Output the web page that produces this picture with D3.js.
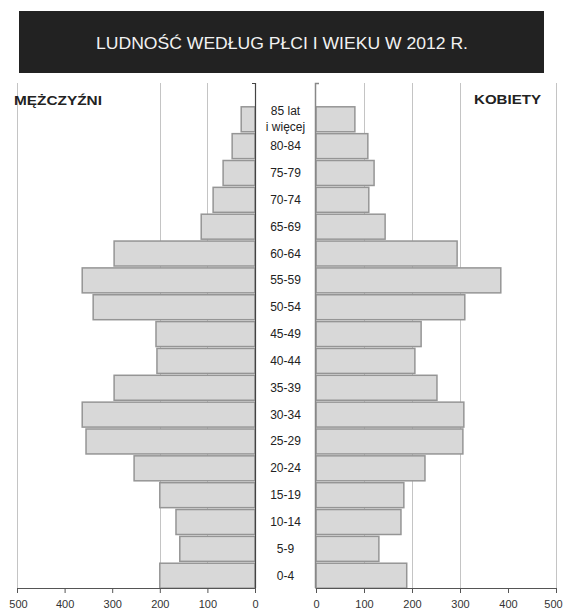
<!DOCTYPE html>
<html><head><meta charset="utf-8">
<script src="https://cdn.jsdelivr.net/npm/d3@7"></script>
<style>html,body{margin:0;padding:0;background:#fff;}svg{display:block;font-family:"Liberation Sans",Arial,sans-serif;}</style>
</head><body><svg id="c" width="564" height="609"></svg>
<script>
// Age groups from oldest (top) to youngest (bottom)
const ageGroups = ["85 lat i więcej","80-84","75-79","70-74","65-69","60-64","55-59","50-54","45-49","40-44","35-39","30-34","25-29","20-24","15-19","10-14","5-9","0-4"];
const men   = [29, 48, 67, 88, 113, 296, 363, 340, 208, 206, 296, 363, 355, 254, 200, 166, 158, 200];
const women = [81, 108, 121, 110, 144, 294, 385, 310, 219, 206, 252, 308, 306, 227, 183, 177, 131, 189];
const axisTicks = [0, 100, 200, 300, 400, 500];
const gridMen = [100, 200, 500];
const gridWomen = [100, 200, 300, 500];
const title = "LUDNOŚĆ WEDŁUG PŁCI I WIEKU W 2012 R.";
const labelMen = "MĘŻCZYŹNI";
const labelWomen = "KOBIETY";

const svg = d3.select("#c");
const yTop = 83, yBot = 588;

const xL = d3.scaleLinear().domain([0, 500]).range([255, 17]);
const xR = d3.scaleLinear().domain([0, 500]).range([316, 556]);
const y = d3.scaleBand().domain(ageGroups).range([106, 589]).paddingInner(0.07).paddingOuter(0.03);

// title bar
svg.append("rect").attr("x", 19).attr("y", 11).attr("width", 525).attr("height", 62).attr("fill", "#222");
svg.append("text").attr("x", 282).attr("y", 49).attr("text-anchor", "middle")
  .attr("fill", "#f2f2f2").attr("font-size", 16.5).attr("textLength", 372).attr("lengthAdjust", "spacingAndGlyphs")
  .text(title);

// gridlines
const grid = svg.append("g").attr("stroke", "#c4c4c4").attr("stroke-width", 1);
grid.selectAll(".gl").data(gridMen).join("line")
  .attr("x1", d => Math.round(xL(d)) + 0.5).attr("x2", d => Math.round(xL(d)) + 0.5)
  .attr("y1", yTop).attr("y2", yBot);
grid.selectAll(".gr").data(gridWomen).join("line")
  .attr("x1", d => Math.round(xR(d)) + 0.5).attr("x2", d => Math.round(xR(d)) + 0.5)
  .attr("y1", yTop).attr("y2", yBot);

// bars
const barStyle = s => s.attr("fill", "#d8d8d8").attr("stroke", "#959595").attr("stroke-width", 1.5);
svg.append("g").selectAll("rect").data(ageGroups).join("rect")
  .attr("x", (d, i) => xL(men[i])).attr("width", (d, i) => xL(0) - xL(men[i]))
  .attr("y", d => y(d)).attr("height", y.bandwidth()).call(barStyle);
svg.append("g").selectAll("rect").data(ageGroups).join("rect")
  .attr("x", xR(0)).attr("width", (d, i) => xR(women[i]) - xR(0))
  .attr("y", d => y(d)).attr("height", y.bandwidth()).call(barStyle);

// center white column for labels
svg.append("rect").attr("x", xL(0) + 1).attr("y", yTop).attr("width", xR(0) - xL(0) - 2).attr("height", yBot - yTop).attr("fill", "#fff");

// vertical baselines with top ticks
svg.append("path").attr("d", `M${xL(0) - 3},${yTop + 0.5}H${xL(0) + 0.5}V${yBot}`).attr("fill", "none").attr("stroke", "#444").attr("stroke-width", 1.2);
svg.append("path").attr("d", `M${xR(0) + 3},${yTop + 0.5}H${xR(0) - 0.5}V${yBot}`).attr("fill", "none").attr("stroke", "#888").attr("stroke-width", 1.5);

// category labels
const cx = (xL(0) + xR(0)) / 2;
const lab = svg.append("g").attr("font-size", 12).attr("fill", "#222").attr("text-anchor", "middle");
ageGroups.forEach(g => {
  const yc = y(g) + y.bandwidth() / 2;
  if (g.includes(" i ")) {
    const parts = g.split(" i ");
    lab.append("text").attr("x", cx).attr("y", yc - 4).text(parts[0]);
    lab.append("text").attr("x", cx).attr("y", yc + 12).text("i " + parts[1]);
  } else {
    lab.append("text").attr("x", cx).attr("y", yc + 4).text(g);
  }
});

// bottom axes
const axL = svg.append("g").attr("transform", `translate(0,${yBot})`)
  .call(d3.axisBottom(xL).tickValues(axisTicks).tickSize(5).tickSizeOuter(0).tickPadding(7));
const axR = svg.append("g").attr("transform", `translate(0,${yBot})`)
  .call(d3.axisBottom(xR).tickValues(axisTicks).tickSize(5).tickSizeOuter(0).tickPadding(7));
[axL, axR].forEach(a => {
  a.select(".domain").attr("stroke", "#555");
  a.selectAll(".tick line").attr("stroke", "#555");
  a.selectAll(".tick text").attr("font-size", 11).attr("fill", "#333").attr("font-family", "Liberation Sans, Arial, sans-serif");
});
axR.selectAll(".tick text").filter(d => d === 500).attr("dx", -3);
axL.selectAll(".tick text").filter(d => d === 500).attr("dx", 1);

// side labels
svg.append("text").attr("x", 14).attr("y", 105).attr("font-size", 13).attr("font-weight", "bold").attr("fill", "#222")
  .attr("textLength", 88).attr("lengthAdjust", "spacingAndGlyphs").text(labelMen);
svg.append("text").attr("x", 474).attr("y", 104).attr("font-size", 13).attr("font-weight", "bold").attr("fill", "#222")
  .attr("textLength", 67).attr("lengthAdjust", "spacingAndGlyphs").text(labelWomen);
</script></body></html>
